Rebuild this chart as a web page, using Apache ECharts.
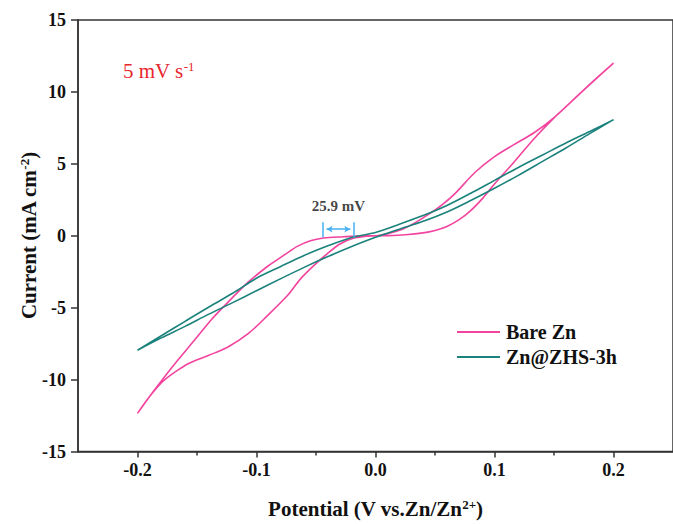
<!DOCTYPE html>
<html><head><meta charset="utf-8">
<script src="https://cdn.jsdelivr.net/npm/echarts@6/dist/echarts.min.js"></script>
<style>html,body{margin:0;padding:0;background:#fff}#c{width:673px;height:524px}</style>
</head><body><div id="c"></div>
<script>
// ---- data ----
var bareForwardV = [-0.2, -0.19, -0.179, -0.168, -0.157, -0.14, -0.124, -0.107, -0.0906, -0.074, -0.063, -0.0519, -0.0409, -0.0299, -0.0187, -0.0077, 0.0006, 0.0089, 0.0227, 0.0338, 0.0448, 0.0559, 0.067, 0.0835, 0.1, 0.1167, 0.1332, 0.1498, 0.1664, 0.183, 0.2];
var bareForwardI = [-12.35, -11.2, -10.15, -9.45, -8.88, -8.31, -7.73, -6.81, -5.54, -4.16, -3.0, -2.08, -1.27, -0.57, -0.18, -0.04, 0, 0.12, 0.46, 0.93, 1.5, 2.15, 2.95, 4.4, 5.5, 6.35, 7.16, 8.2, 9.47, 10.73, 12.0];
var bareReverseV = [0.2, 0.183, 0.1664, 0.15, 0.1332, 0.1167, 0.1, 0.09, 0.08, 0.07, 0.06, 0.05, 0.04, 0.025, 0.01, 0.0006, -0.016, -0.027, -0.0436, -0.0547, -0.0658, -0.0713, -0.0824, -0.0906, -0.107, -0.128, -0.138, -0.151, -0.165, -0.179, -0.19, -0.2];
var bareReverseI = [12.0, 10.75, 9.47, 8.2, 6.75, 5.15, 3.6, 2.6, 1.75, 1.1, 0.65, 0.37, 0.2, 0.07, 0.01, 0, -0.02, -0.07, -0.16, -0.35, -0.74, -1.04, -1.66, -2.12, -3.23, -4.96, -5.84, -7.15, -8.54, -9.99, -11.19, -12.35];
var zhsForwardV = [-0.2, -0.18, -0.16, -0.14, -0.12, -0.1, -0.08, -0.06, -0.04, -0.02, 0, 0.02, 0.04, 0.06, 0.08, 0.1, 0.12, 0.14, 0.16, 0.18, 0.2];
var zhsForwardI = [-7.96, -7.1, -6.3, -5.45, -4.65, -3.82, -3.0, -2.2, -1.45, -0.75, -0.11, 0.45, 1.0, 1.65, 2.45, 3.3, 4.2, 5.15, 6.1, 7.1, 8.07];
var zhsReverseV = [0.2, 0.18, 0.16, 0.14, 0.12, 0.1, 0.08, 0.06, 0.04, 0.02, 0, -0.02, -0.04, -0.06, -0.08, -0.1, -0.12, -0.14, -0.16, -0.18, -0.2];
var zhsReverseI = [8.07, 7.25, 6.45, 5.6, 4.75, 3.85, 2.95, 2.1, 1.4, 0.8, 0.23, -0.12, -0.7, -1.37, -2.15, -2.95, -4.0, -4.95, -5.95, -6.95, -7.96];
var seriesNames = ['Bare Zn', 'Zn@ZHS-3h'];
var xTickValues = [-0.2, -0.1, 0.0, 0.1, 0.2];
var xMinorTickValues = [-0.15, -0.05, 0.05, 0.15];
var peakMarkV = [-0.0441, -0.0182];   // 25.9 mV separation
var peakMarkI = [0.93, -0.11];
var arrowI = 0.46;
var annotText = '25.9 mV';
var annotPos = [-0.0312, 2.08];

function pairs(v, i) { return v.map(function (x, k) { return [x, i[k]]; }); }
var bareLoop = pairs(bareForwardV, bareForwardI).concat(pairs(bareReverseV, bareReverseI).slice(1));
var zhsLoop = pairs(zhsForwardV, zhsForwardI).concat(pairs(zhsReverseV, zhsReverseI).slice(1));

var FONT = "'Liberation Serif','Times New Roman',serif";
var PINK = '#f2449f', TEAL = '#1b827c', BLUE = '#45b0f0', AX = '#333';

var chart = echarts.init(document.getElementById('c'), null, {renderer: 'svg'});
chart.setOption({
  animation: false,
  backgroundColor: '#fff',
  title: {
    text: '5 mV s{sup|-1}', left: 123, top: 60, padding: 0,
    textStyle: {
      color: '#e8262d', fontFamily: FONT, fontWeight: 'normal', fontSize: 21,
      rich: {sup: {color: '#e8262d', fontFamily: FONT, fontSize: 13, verticalAlign: 'bottom', padding: [0, 0, 9, 0]}}
    }
  },
  grid: {left: 78, right: -8, top: 20, bottom: 71, show: true, borderColor: AX, borderWidth: 1.5, backgroundColor: 'transparent'},
  legend: {
    data: seriesNames, orient: 'vertical', left: 457, top: 322, padding: 0, icon: 'rect',
    itemWidth: 43, itemHeight: 2, itemGap: 5,
    textStyle: {fontFamily: FONT, fontWeight: 'bold', fontSize: 20, color: '#111', padding: [0, 0, 0, 1]}
  },
  xAxis: [{
    type: 'value', min: -0.25, max: 0.25, position: 'bottom',
    name: 'Potential (V vs.Zn/Zn{sup|2+})', nameLocation: 'middle', nameGap: 46, nameMoveOverlap: false,
    nameTextStyle: {fontFamily: FONT, fontWeight: 'bold', fontSize: 21, color: '#111',
      rich: {sup: {fontFamily: FONT, fontWeight: 'bold', fontSize: 13, color: '#111', verticalAlign: 'bottom', padding: [0, 0, 9, 0]}}},
    axisLine: {show: true, onZero: false, lineStyle: {color: AX, width: 1.5}},
    axisTick: {show: true, length: 6, lineStyle: {color: AX, width: 1.5}, customValues: xTickValues},
    axisLabel: {customValues: xTickValues, margin: 9, fontFamily: FONT, fontWeight: 'bold', fontSize: 18, color: '#111',
      formatter: function (v) { return v.toFixed(1); }},
    splitLine: {show: false}
  }, {
    type: 'value', min: -0.25, max: 0.25, position: 'bottom',
    axisLine: {show: false, onZero: false},
    axisTick: {show: true, length: 4, lineStyle: {color: AX, width: 1.5}, customValues: xMinorTickValues},
    axisLabel: {show: false}, splitLine: {show: false}
  }],
  yAxis: {
    type: 'value', min: -15, max: 15, interval: 5,
    name: 'Current (mA cm{sup|-2})', nameLocation: 'middle', nameGap: 38, nameMoveOverlap: false,
    nameTextStyle: {fontFamily: FONT, fontWeight: 'bold', fontSize: 21, color: '#111',
      rich: {sup: {fontFamily: FONT, fontWeight: 'bold', fontSize: 13, color: '#111', verticalAlign: 'bottom', padding: [0, 0, 9, 0]}}},
    axisLine: {show: true, onZero: false, lineStyle: {color: AX, width: 1.5}},
    axisTick: {show: true, length: 7, lineStyle: {color: AX, width: 1.5}},
    axisLabel: {margin: 12, fontFamily: FONT, fontWeight: 'bold', fontSize: 18, color: '#111'},
    splitLine: {show: false}
  },
  series: [{
    name: seriesNames[0], type: 'line', data: bareLoop, symbol: 'none', smooth: 0.3,
    lineStyle: {color: PINK, width: 1.6}, itemStyle: {color: PINK}
  }, {
    name: seriesNames[1], type: 'line', data: zhsLoop, symbol: 'none', smooth: 0.3,
    lineStyle: {color: TEAL, width: 1.6}, itemStyle: {color: TEAL}
  }, {
    name: 'annot', type: 'scatter', data: [annotPos], symbolSize: 0, silent: true,
    label: {show: true, position: 'inside', formatter: annotText, fontFamily: FONT, fontWeight: 'bold', fontSize: 15, color: '#111'},
    markLine: {
      silent: true, symbol: 'none', label: {show: false},
      lineStyle: {color: BLUE, width: 1.5, type: 'solid'},
      data: [
        [{coord: [peakMarkV[0], peakMarkI[0]]}, {coord: [peakMarkV[0], peakMarkI[1]]}],
        [{coord: [peakMarkV[1], peakMarkI[0]]}, {coord: [peakMarkV[1], peakMarkI[1]]}],
        [{coord: [peakMarkV[0] + 0.003, arrowI], symbol: 'arrow', symbolSize: [5, 6]},
         {coord: [peakMarkV[1] - 0.003, arrowI], symbol: 'arrow', symbolSize: [5, 6]}]
      ]
    }
  }]
});
</script></body></html>
